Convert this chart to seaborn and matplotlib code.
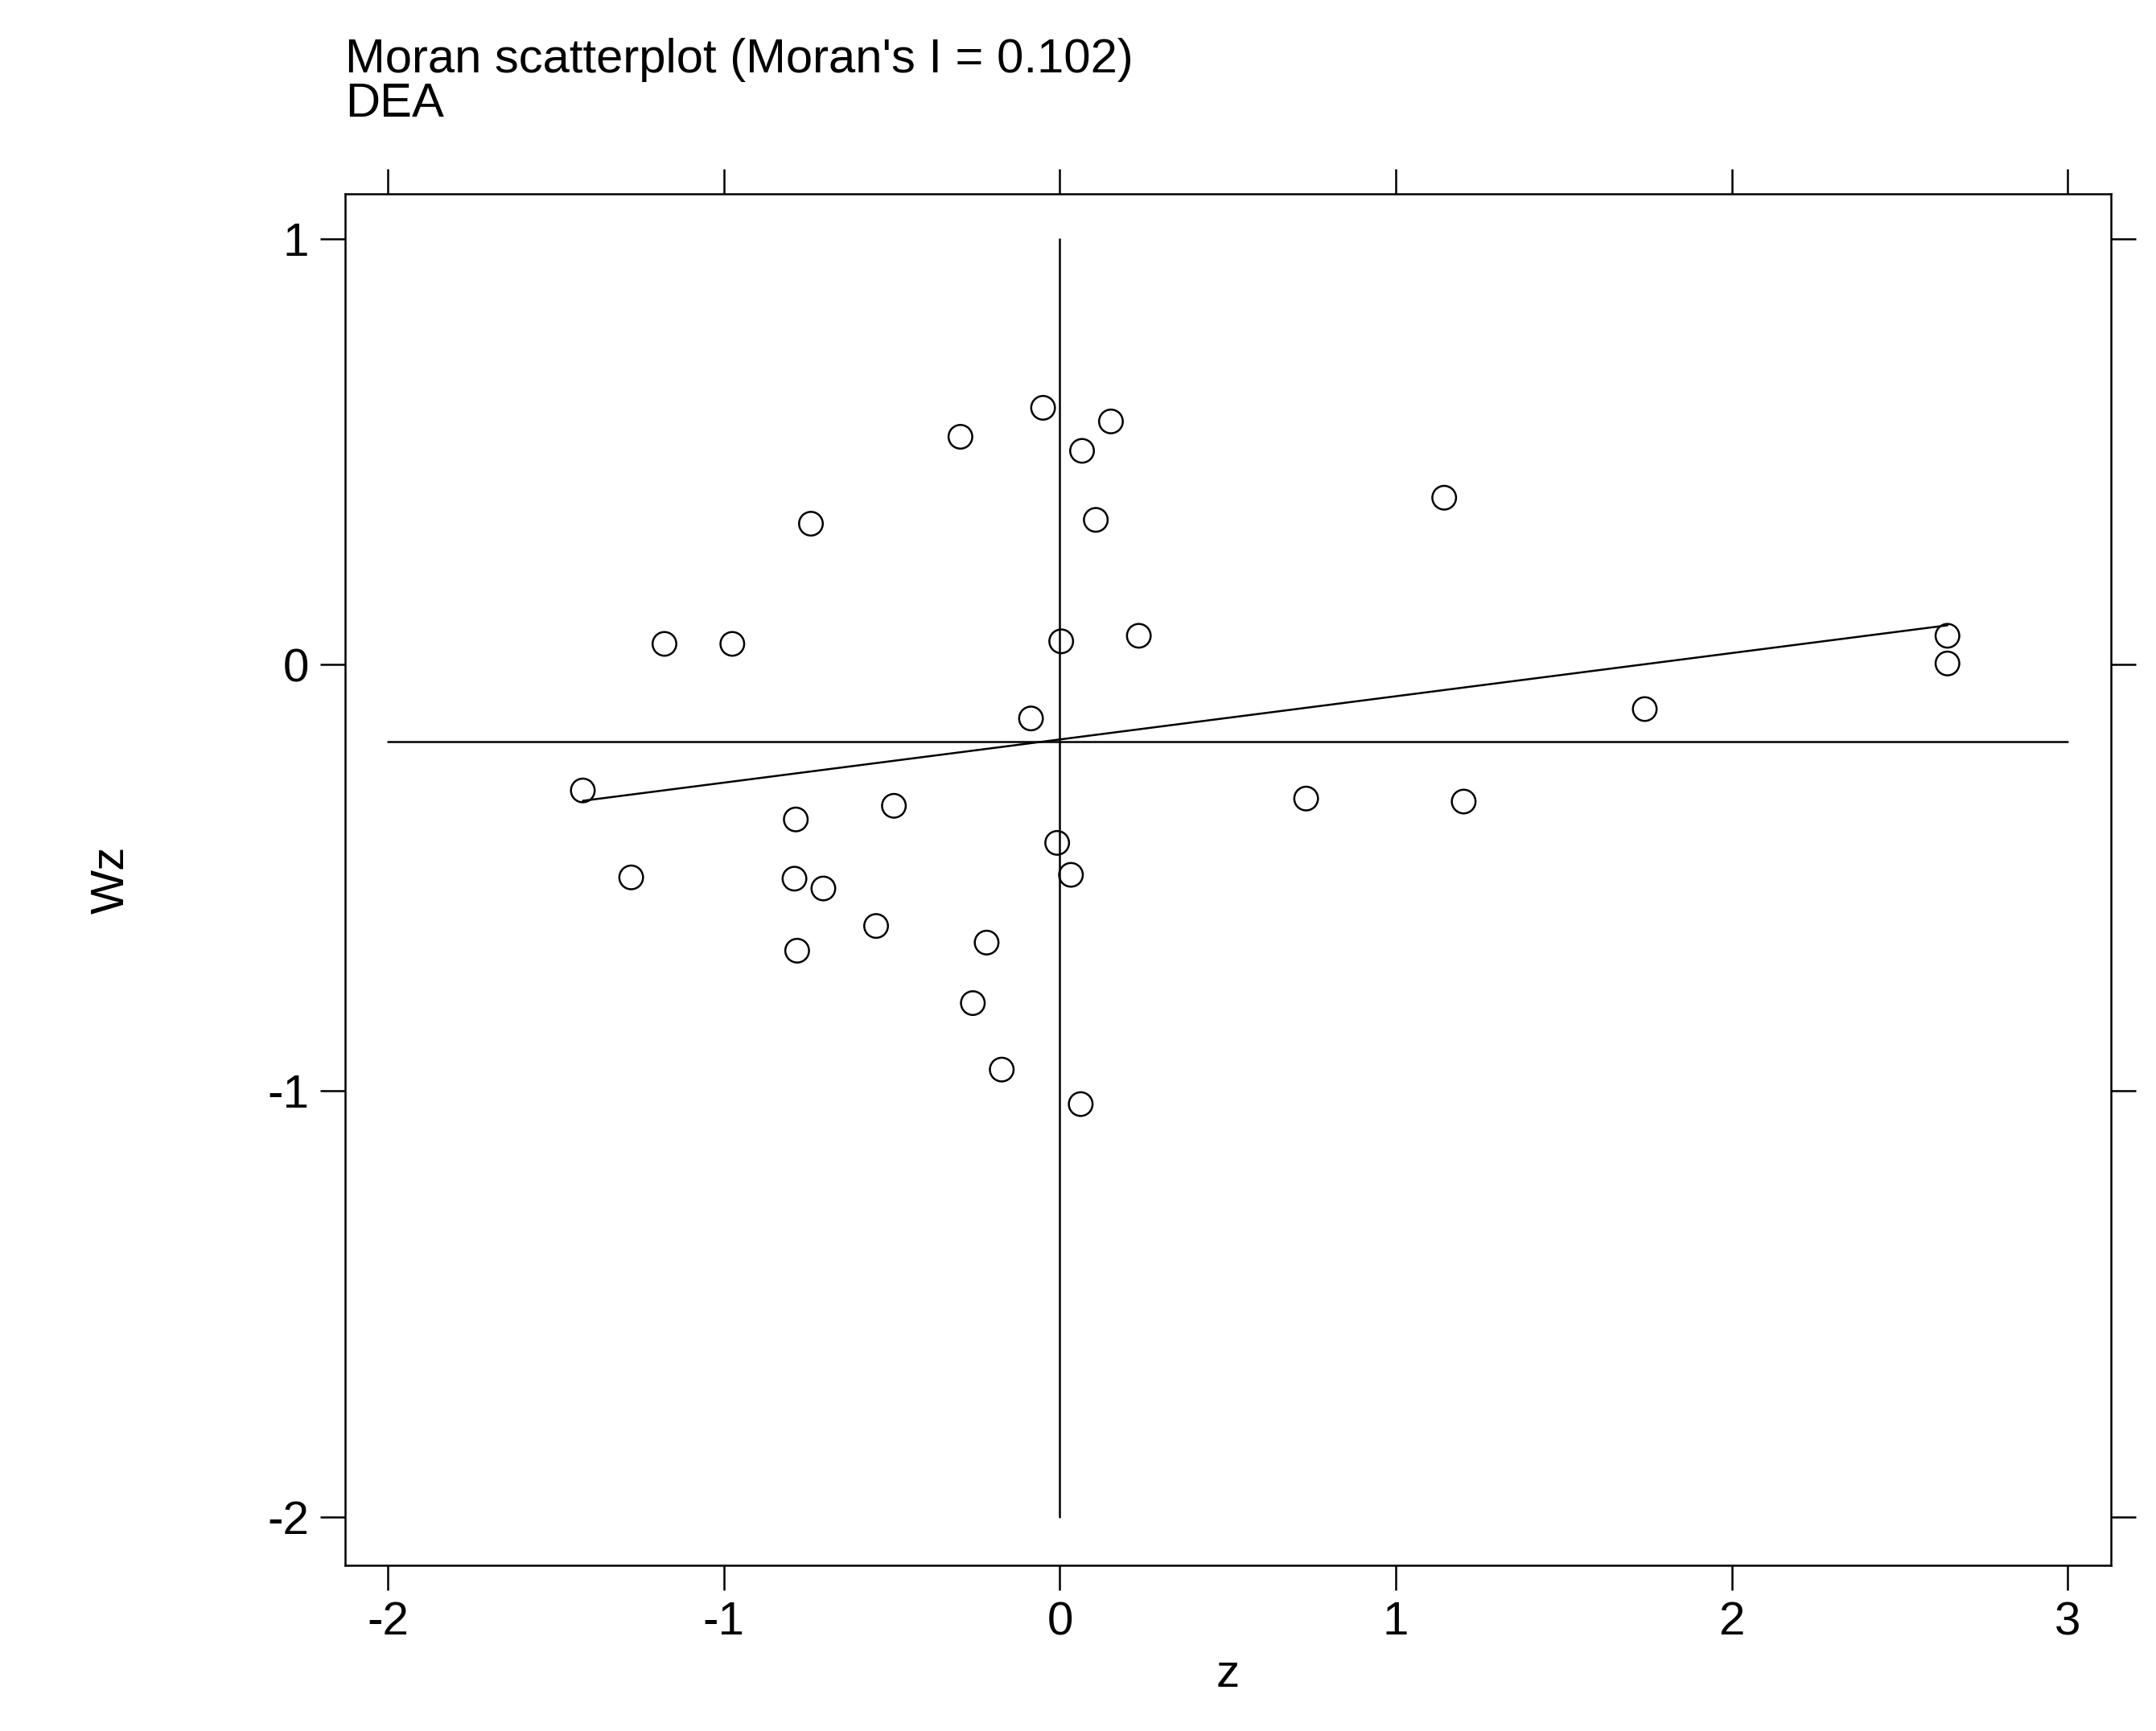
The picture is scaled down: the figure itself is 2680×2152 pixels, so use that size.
import numpy as np
import pandas as pd
import matplotlib.pyplot as plt
import seaborn as sns

sns.set_style("white")
plt.rcParams['font.family'] = ['Liberation Sans', 'DejaVu Sans']
plt.rcParams['axes.unicode_minus'] = False
plt.rcParams['text.color'] = 'black'
plt.rcParams['axes.labelcolor'] = 'black'
plt.rcParams['xtick.color'] = 'black'
plt.rcParams['ytick.color'] = 'black'

# values
z = [-0.296, -0.05, 0.152, 0.066, -0.741, 0.107, 1.144, -1.177, -0.975, 0.004,
     0.235, 2.642, 2.642, -0.086, 1.741, -1.420, -0.786, -0.494, 0.733, 1.202,
     -0.008, -1.276, -0.790, -0.704, 0.033, -0.547, -0.218, -0.782, -0.259,
     -0.173, 0.062]
wz = [0.535, 0.603, 0.571, 0.502, 0.331, 0.340, 0.392, 0.049, 0.049, 0.055,
      0.068, 0.068, 0.003, -0.126, -0.104, -0.295, -0.363, -0.331, -0.314, -0.321,
      -0.418, -0.499, -0.502, -0.525, -0.493, -0.613, -0.652, -0.671, -0.794,
      -0.950, -1.031]
mean_wz = -0.18
xticks = [-2, -1, 0, 1, 2, 3]
yticks = [-2, -1, 0, 1]

df = pd.DataFrame({"z": z, "Wz": wz})

fig = plt.figure(figsize=(26.8, 21.52), dpi=100)
ax = fig.add_axes([0.160, 0.0958, 0.819, 0.7922])

ax.plot([-2, 3], [mean_wz, mean_wz], color="black", lw=1.8)
ax.plot([0, 0], [-2, 1], color="black", lw=1.8)

slope, icpt = np.polyfit(df["z"], df["Wz"], 1)
xs = np.array([df["z"].min(), df["z"].max()])
ax.plot(xs, icpt + slope * xs, color="black", lw=1.8)

sns.scatterplot(data=df, x="z", y="Wz", ax=ax, marker="o", s=450,
                facecolor="none", edgecolor="black", linewidth=1.8)

ax.set_xlim(-2.128, 3.128)
ax.set_ylim(-2.113, 1.105)
ax.set_xticks(xticks)
ax.set_yticks(yticks)
ax.tick_params(axis="both", which="both", direction="out", length=22, width=1.8,
               labelsize=42, top=True, right=True, bottom=True, left=True,
               labeltop=False, labelright=False, pad=10)
for s in ax.spines.values():
    s.set_color("black")
    s.set_linewidth(1.8)
ax.set_xlabel("z", fontsize=42, labelpad=8)
ax.set_ylabel("Wz", fontsize=42, labelpad=120)

fig.text(0.160, 0.978, "Moran scatterplot (Moran's I = 0.102)\nDEA",
         fontsize=43, ha="left", va="top", linespacing=1.0)

fig.savefig("out.png", dpi=100)
